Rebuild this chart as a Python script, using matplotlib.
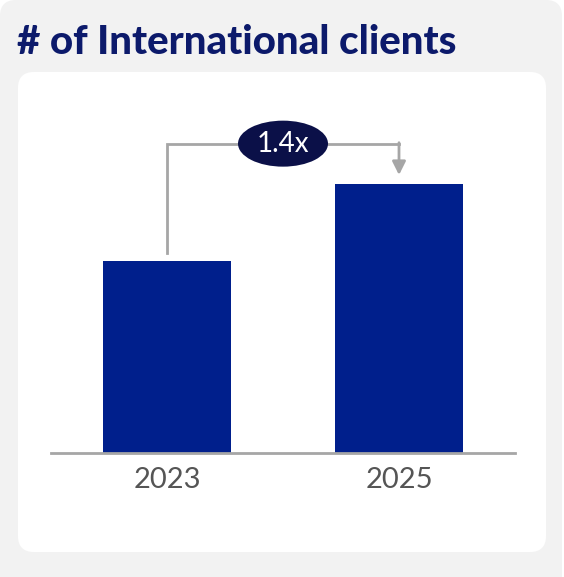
import matplotlib
matplotlib.use("Agg")
import matplotlib.pyplot as plt
from matplotlib.patches import FancyBboxPatch, Ellipse

# Data
years = ["2023", "2025"]
clients = [100, 140]
title = "# of International clients"

BAR_COLOR = "#001f8c"
TITLE_COLOR = "#0c1a6b"
BADGE_COLOR = "#0b1048"
LINE_COLOR = "#a6a6a6"
LABEL_COLOR = "#555555"

W, H = 564, 577
fig = plt.figure(figsize=(W / 100, H / 100), dpi=100)
fig.patch.set_facecolor("white")

# Background panels drawn in pixel coordinates
bg = fig.add_axes([0, 0, 1, 1], zorder=0)
bg.set_xlim(0, W)
bg.set_ylim(H, 0)
bg.axis("off")
bg.add_patch(FancyBboxPatch((0, 0), 562, 600, boxstyle="round,pad=0,rounding_size=16",
                            facecolor="#f2f2f2", edgecolor="none"))
bg.add_patch(FancyBboxPatch((18, 72), 528, 480, boxstyle="round,pad=0,rounding_size=16",
                            facecolor="white", edgecolor="none"))
bg.text(17, 54, title, fontsize=29, fontweight="black", family="Lato",
        color=TITLE_COLOR, ha="left", va="baseline")

# Bar chart axes
ymax = 180
px_per_unit = 269 / clients[1]
ax_h = ymax * px_per_unit
ax = fig.add_axes([51 / W, (H - 453) / H, 464 / W, ax_h / H], zorder=1)
ax.patch.set_alpha(0)
x = list(range(len(years)))
ax.bar(x, clients, width=0.556, color=BAR_COLOR, zorder=2)
ax.set_xlim(-0.5, 1.5)
ax.set_ylim(0, ymax)
for s in ["top", "right", "left"]:
    ax.spines[s].set_visible(False)
ax.spines["bottom"].set_color(LINE_COLOR)
ax.spines["bottom"].set_linewidth(2)
ax.set_yticks([])
ax.set_xticks(x)
ax.set_xticklabels(years, family="Lato", fontsize=21, fontweight="normal",
                   color=LABEL_COLOR)
ax.tick_params(axis="x", length=0, pad=10)

# Growth connector
ratio = clients[1] / clients[0]
gap0 = 8 / px_per_unit
gap1 = 9 / px_per_unit
y_line = ymax - 19  # connector height
ax.plot([x[0], x[0], x[1]], [clients[0] + gap0, y_line, y_line],
        color=LINE_COLOR, lw=2, clip_on=False, zorder=3, solid_joinstyle="miter")
ax.annotate("", xy=(x[1], clients[1] + gap1), xytext=(x[1], y_line + 0.5),
            arrowprops=dict(arrowstyle="-|>,head_length=0.8,head_width=0.4",
                            color=LINE_COLOR, lw=2, shrinkA=0, shrinkB=0),
            annotation_clip=False, zorder=3)
xm = (x[0] + x[1]) / 2
ax.add_patch(Ellipse((xm, y_line), 90 / 232, 46 / px_per_unit,
                     facecolor=BADGE_COLOR, edgecolor="none", zorder=4, clip_on=False))
ax.text(xm, y_line, f"{ratio:.1f}x", color="white", family="Lato", fontsize=20,
        fontweight="normal", ha="center", va="center", zorder=5)

fig.savefig("out.png", dpi=100)
